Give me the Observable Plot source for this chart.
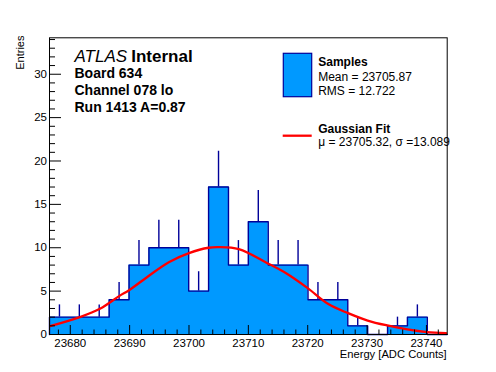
<!DOCTYPE html>
<html><head><meta charset="utf-8">
<script src="https://cdn.jsdelivr.net/npm/d3@7"></script>
<script src="https://cdn.jsdelivr.net/npm/@observablehq/plot@0.6"></script>
<style>
body{margin:0;background:#fff;}
svg{font-family:"Liberation Sans",Arial,Helvetica,sans-serif;}
</style>
</head><body><div id="chart"></div>
<script>
// Histogram range and bin contents (20 bins)
const binLow = 23676.5, binHigh = 23743.5;
const counts = [2, 2, 2, 4, 8, 10, 10, 5, 17, 8, 13, 8, 8, 4, 4, 1, 0, 1, 2, 0];

// Gaussian fit curve
const fitX = [23676.6, 23681.6, 23685.0, 23688.3, 23689.9, 23693.2, 23696.6, 23700.0, 23703.3, 23705.0, 23708.4, 23713.2, 23716.5, 23720.0, 23723.4, 23726.8, 23730.1, 23733.4, 23736.8, 23740.1, 23743.3];
const fitY = [0.96, 2.0, 2.96, 4.45, 5.1, 6.75, 8.34, 9.38, 10.0, 10.07, 9.84, 8.22, 7.0, 5.34, 3.54, 2.46, 1.61, 1.04, 0.58, 0.27, 0.15];

// Axis ticks
const xMajorTicks = [23680, 23690, 23700, 23710, 23720, 23730, 23740];
const xMinorTicks = [23678, 23682, 23684, 23686, 23688, 23692, 23694, 23696, 23698, 23702, 23704, 23706, 23708, 23712, 23714, 23716, 23718, 23722, 23724, 23726, 23728, 23732, 23734, 23736, 23738, 23742];
const yMajorTicks = [0, 5, 10, 15, 20, 25, 30];
const yMinorTicks = [1, 2, 3, 4, 6, 7, 8, 9, 11, 12, 13, 14, 16, 17, 18, 19, 21, 22, 23, 24, 26, 27, 28, 29, 31, 32, 33, 34];
const yMax = 34.2;

// Texts
const atlasLabel = "ATLAS";
const statusLabel = "Internal";
const infoLines = ["Board 634", "Channel 078 lo", "Run 1413 A=0.87"];
const xTitle = "Energy [ADC Counts]";
const yTitle = "Entries";
const legendSamples = ["Samples", "Mean = 23705.87", "RMS = 12.722"];
const legendFit = ["Gaussian Fit", "\u03bc = 23705.32, \u03c3 =13.089"];

// Build tables
const W = 496, H = 372;
const mL = 49, mR = 49.3, mT = 37.3, mB = 38;
const FW = W - mL - mR, FH = H - mT - mB;
const bw = (binHigh - binLow) / counts.length;
const bins = counts.map((c, i) => ({x1: binLow + i * bw, x2: binLow + (i + 1) * bw, xc: binLow + (i + 0.5) * bw, c}));
const outline = [{x: binLow, y: 0}, ...bins.map(b => ({x: b.x1, y: b.c})), {x: binHigh, y: 0}];
const fit = fitX.map((x, i) => ({x, y: fitY[i]}));

const fillBlue = "#0099ff", navy = "#000099";

const txt = (s, dx, dy, o = {}) => Plot.text([s], {text: d => d, frameAnchor: "top-left", dx, dy, textAnchor: "start", lineAnchor: "bottom", fill: "black", ...o});

const plot = Plot.plot({
  width: W, height: H,
  marginLeft: mL, marginRight: mR, marginTop: mT, marginBottom: mB,
  x: {domain: [binLow, binHigh]},
  y: {domain: [0, yMax]},
  marks: [
    Plot.areaY(outline, {x: "x", y: "y", curve: "step-after", fill: fillBlue}),
    Plot.line(outline, {x: "x", y: "y", curve: "step-after", stroke: navy, strokeWidth: 1.4}),
    Plot.ruleX(bins.filter(b => b.c > 0), {x: "xc", y1: "c", y2: b => b.c + Math.sqrt(b.c), stroke: navy, strokeWidth: 1.4}),
    Plot.line(fit, {x: "x", y: "y", curve: "catmull-rom", stroke: "#ff0000", strokeWidth: 2.3}),
    Plot.frame({stroke: "black", strokeWidth: 1}),
    Plot.tickX(xMajorTicks, {x: d => d, stroke: "black", insetTop: FH - 9}),
    Plot.tickX(xMinorTicks, {x: d => d, stroke: "black", insetTop: FH - 4.5}),
    Plot.tickY(yMajorTicks, {y: d => d, stroke: "black", insetRight: FW - 12}),
    Plot.tickY(yMinorTicks, {y: d => d, stroke: "black", insetRight: FW - 6}),
    Plot.axisX({ticks: xMajorTicks, tickSize: 0, tickPadding: 4.5, tickFormat: d => `${d}`, fontSize: 11.5, label: null}),
    Plot.axisY({ticks: yMajorTicks, tickSize: 0, tickPadding: 2.5, tickFormat: d => `${d}`, fontSize: 11.5, label: null}),
    Plot.text([xTitle], {text: d => d, frameAnchor: "bottom-right", dx: -0.5, dy: 23.5, textAnchor: "end", lineAnchor: "bottom", fontSize: 11.2, fill: "black"}),
    Plot.text([yTitle], {text: d => d, frameAnchor: "top-left", dx: -25.5, dy: -2.3, rotate: -90, textAnchor: "end", lineAnchor: "bottom", fontSize: 11, fill: "black"}),
    txt(atlasLabel, 25, 23.9, {fontSize: 17, fontStyle: "italic"}),
    txt(statusLabel, 81.7, 23.9, {fontSize: 17, fontWeight: "bold"}),
    txt(infoLines[0], 25, 40.2, {fontSize: 14, fontWeight: "bold"}),
    txt(infoLines[1], 25, 56.7, {fontSize: 14, fontWeight: "bold"}),
    txt(infoLines[2], 25, 73.7, {fontSize: 14, fontWeight: "bold"}),
    txt(legendSamples[0], 268.7, 27.7, {fontSize: 12, fontWeight: "bold"}),
    txt(legendSamples[1], 268.7, 42.7, {fontSize: 12}),
    txt(legendSamples[2], 268.7, 57, {fontSize: 12}),
    txt(legendFit[0], 268.7, 95.4, {fontSize: 12, fontWeight: "bold"}),
    txt(legendFit[1], 268.7, 107.9, {fontSize: 12})
  ]
});

// Legend swatches
const svg = d3.select(plot);
svg.append("rect").attr("x", 283.3).attr("y", 53.3).attr("width", 28.4).attr("height", 43.4)
  .attr("fill", fillBlue).attr("stroke", navy).attr("stroke-width", 1.2);
svg.append("line").attr("x1", 282.7).attr("x2", 311.7).attr("y1", 135.7).attr("y2", 135.7)
  .attr("stroke", "#ff0000").attr("stroke-width", 2.3);
document.getElementById("chart").appendChild(plot);
</script>
</body></html>
